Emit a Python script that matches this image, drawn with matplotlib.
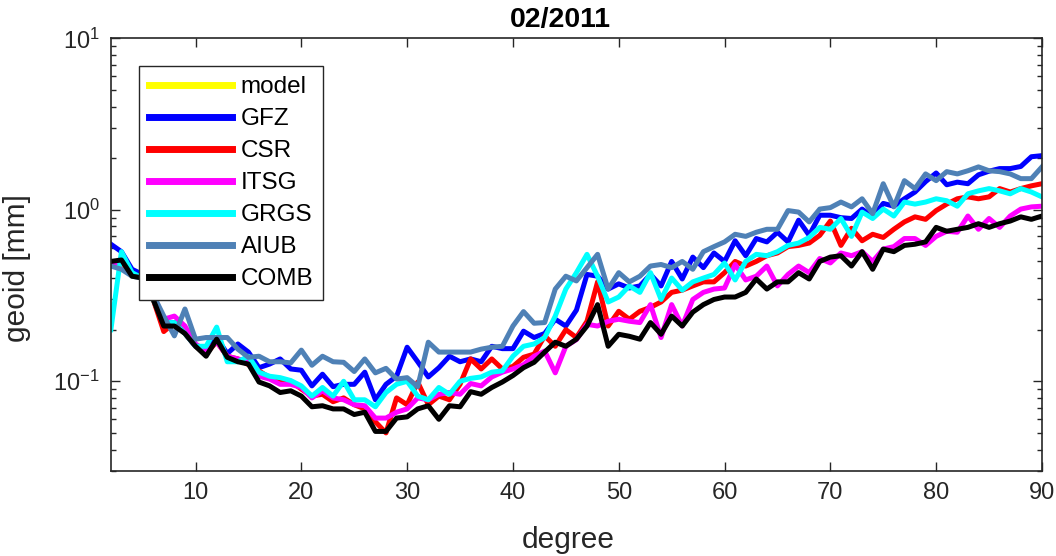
import numpy as np
import matplotlib
matplotlib.use('Agg')
import matplotlib.pyplot as plt
from matplotlib.ticker import LogLocator, NullFormatter, MultipleLocator

plt.rcParams['font.family'] = ['Liberation Sans', 'DejaVu Sans']
plt.rcParams['mathtext.fontset'] = 'custom'
plt.rcParams['mathtext.rm'] = 'Liberation Sans'
plt.rcParams['mathtext.it'] = 'Liberation Sans'
plt.rcParams['mathtext.default'] = 'regular'

# spherical harmonic degree 2..90
degree = list(range(2, 91))

# geoid error per degree [mm]
model = []  # not visible in the plot

gfz = [0.63, 0.57, 0.45, 0.42, 0.32, 0.22, 0.22, 0.19, 0.16, 0.15,
       0.18, 0.145, 0.165, 0.148, 0.12, 0.126, 0.135, 0.118, 0.116, 0.094,
       0.11, 0.093, 0.096, 0.096, 0.113, 0.078, 0.096, 0.107, 0.158, 0.13,
       0.106, 0.12, 0.14, 0.13, 0.135, 0.13, 0.16, 0.155, 0.155, 0.196,
       0.18, 0.19, 0.23, 0.21, 0.26, 0.42, 0.41, 0.345, 0.37, 0.35,
       0.36, 0.42, 0.36, 0.50, 0.395, 0.53, 0.46, 0.56, 0.50, 0.66,
       0.54, 0.68, 0.65, 0.74, 0.65, 0.87, 0.71, 0.93, 0.93, 0.90,
       0.89, 1.01, 0.91, 1.09, 1.05, 1.16, 1.27, 1.46, 1.64, 1.40,
       1.45, 1.42, 1.60, 1.68, 1.74, 1.74, 1.79, 2.04, 2.07]

csr = [0.48, 0.50, 0.42, 0.40, 0.30, 0.195, 0.22, 0.19, 0.16, 0.145,
       0.17, 0.14, 0.135, 0.125, 0.115, 0.105, 0.10, 0.10, 0.09, 0.082,
       0.084, 0.076, 0.08, 0.073, 0.069, 0.058, 0.05, 0.08, 0.073, 0.099,
       0.073, 0.082, 0.078, 0.096, 0.135, 0.118, 0.135, 0.118, 0.122, 0.138,
       0.144, 0.184, 0.16, 0.20, 0.18, 0.224, 0.38, 0.21, 0.256, 0.23,
       0.256, 0.27, 0.29, 0.33, 0.34, 0.36, 0.38, 0.38, 0.43, 0.50,
       0.47, 0.50, 0.54, 0.56, 0.61, 0.62, 0.64, 0.71, 0.86, 0.62,
       0.78, 0.66, 0.72, 0.69, 0.77, 0.85, 0.91, 0.88, 0.99, 1.08,
       1.16, 1.19, 1.16, 1.19, 1.33, 1.27, 1.33, 1.38, 1.42]

itsg = [0.47, 0.52, 0.42, 0.40, 0.32, 0.23, 0.24, 0.21, 0.165, 0.15,
        0.17, 0.14, 0.135, 0.13, 0.107, 0.103, 0.096, 0.096, 0.092, 0.08,
        0.088, 0.08, 0.078, 0.073, 0.072, 0.061, 0.061, 0.066, 0.069, 0.08,
        0.078, 0.084, 0.086, 0.084, 0.097, 0.094, 0.106, 0.113, 0.118, 0.125,
        0.14, 0.15, 0.112, 0.16, 0.175, 0.215, 0.21, 0.224, 0.23, 0.224,
        0.22, 0.28, 0.18, 0.28, 0.21, 0.30, 0.33, 0.345, 0.35, 0.48,
        0.39, 0.41, 0.47, 0.36, 0.42, 0.47, 0.43, 0.52, 0.49, 0.56,
        0.54, 0.57, 0.50, 0.59, 0.61, 0.68, 0.68, 0.62, 0.70, 0.75,
        0.74, 0.92, 0.77, 0.89, 0.79, 0.92, 1.01, 1.04, 1.05]

grgs = [0.20, 0.57, 0.43, 0.40, 0.30, 0.22, 0.22, 0.19, 0.16, 0.16,
        0.207, 0.13, 0.13, 0.14, 0.113, 0.107, 0.105, 0.101, 0.094, 0.082,
        0.092, 0.082, 0.10, 0.078, 0.078, 0.071, 0.086, 0.096, 0.10, 0.082,
        0.078, 0.092, 0.084, 0.10, 0.104, 0.106, 0.113, 0.115, 0.14, 0.16,
        0.165, 0.18, 0.24, 0.345, 0.43, 0.55, 0.41, 0.29, 0.31, 0.36,
        0.33, 0.43, 0.30, 0.40, 0.34, 0.38, 0.40, 0.42, 0.49, 0.39,
        0.50, 0.55, 0.54, 0.57, 0.62, 0.64, 0.69, 0.79, 0.77, 0.89,
        0.70, 0.97, 0.89, 1.01, 0.92, 1.11, 1.08, 1.11, 1.16, 1.13,
        1.05, 1.24, 1.29, 1.33, 1.29, 1.24, 1.33, 1.27, 1.19]

aiub = [0.47, 0.45, 0.41, 0.40, 0.32, 0.24, 0.184, 0.264, 0.176, 0.18,
        0.18, 0.18, 0.154, 0.138, 0.14, 0.13, 0.13, 0.128, 0.152, 0.124,
        0.14, 0.13, 0.129, 0.114, 0.135, 0.112, 0.119, 0.103, 0.105, 0.093,
        0.169, 0.148, 0.148, 0.148, 0.148, 0.154, 0.158, 0.16, 0.21, 0.255,
        0.218, 0.22, 0.345, 0.41, 0.385, 0.46, 0.55, 0.345, 0.43, 0.38,
        0.41, 0.47, 0.48, 0.46, 0.50, 0.45, 0.57, 0.61, 0.65, 0.72,
        0.70, 0.74, 0.77, 0.77, 0.99, 0.97, 0.85, 1.01, 1.03, 1.11,
        1.04, 1.16, 0.95, 1.42, 1.04, 1.48, 1.33, 1.62, 1.48, 1.67,
        1.62, 1.69, 1.78, 1.69, 1.67, 1.62, 1.52, 1.52, 1.78]

comb = [0.50, 0.51, 0.41, 0.40, 0.30, 0.21, 0.21, 0.19, 0.16, 0.14,
        0.176, 0.138, 0.13, 0.126, 0.099, 0.094, 0.086, 0.088, 0.082, 0.071,
        0.072, 0.069, 0.069, 0.064, 0.066, 0.051, 0.051, 0.061, 0.062, 0.069,
        0.072, 0.060, 0.072, 0.071, 0.087, 0.084, 0.092, 0.099, 0.108, 0.12,
        0.129, 0.148, 0.169, 0.16, 0.176, 0.21, 0.28, 0.16, 0.188, 0.183,
        0.176, 0.22, 0.188, 0.24, 0.21, 0.253, 0.28, 0.30, 0.31, 0.31,
        0.33, 0.395, 0.345, 0.38, 0.38, 0.43, 0.395, 0.50, 0.53, 0.54,
        0.47, 0.57, 0.45, 0.59, 0.57, 0.62, 0.63, 0.65, 0.79, 0.75,
        0.77, 0.79, 0.83, 0.79, 0.83, 0.86, 0.91, 0.88, 0.92]

labels = ['model', 'GFZ', 'CSR', 'ITSG', 'GRGS', 'AIUB', 'COMB']
colors = ['#ffff00', '#0000ff', '#ff0000', '#ff00ff', '#00ffff', '#4f81b6', '#000000']
series = [model, gfz, csr, itsg, grgs, aiub, comb]

fig = plt.figure(figsize=(10.56, 5.56), dpi=100)
ax = fig.add_axes([0.105, 0.153, 0.8817, 0.778])

for vals, lab, col in zip(series, labels, colors):
    ax.plot(degree[:len(vals)], vals, color=col, lw=3.6, label=lab)

ax.set_yscale('log')
ax.set_xlim(2, 90)
ax.set_ylim(0.03, 10)
ax.xaxis.set_major_locator(MultipleLocator(10))
ax.yaxis.set_major_locator(LogLocator(base=10))
ax.yaxis.set_minor_locator(LogLocator(base=10, subs=np.arange(2, 10)))
ax.yaxis.set_minor_formatter(NullFormatter())

axcol = '#262626'
for s in ax.spines.values():
    s.set_color(axcol)
    s.set_linewidth(1.2)
ax.tick_params(which='both', direction='in', top=True, right=True,
               colors=axcol, labelsize=17)
ax.tick_params(which='major', length=6.5, width=1.0)
ax.tick_params(which='minor', length=3.5, width=1.0)
ax.tick_params(axis='x', pad=8)
ax.tick_params(axis='y', pad=8)

ax.set_xlabel('degree', fontsize=21.5, color=axcol)
ax.xaxis.set_label_coords(0.491, -0.128)
ax.set_ylabel('geoid [mm]', fontsize=21.5, color=axcol)
ax.yaxis.set_label_coords(-0.086, 0.469)
ax.set_title('02/2011', fontsize=20.5, fontweight='bold', pad=8, x=0.483)

leg = ax.legend(loc='upper left', bbox_to_anchor=(0.030, 0.935), borderaxespad=0,
                fontsize=17.5, handlelength=3.45, handletextpad=0.35,
                labelspacing=0.41, borderpad=0.4, fancybox=False,
                framealpha=1.0, edgecolor='#262626')
for line in leg.get_lines():
    line.set_linewidth(5)
leg.get_frame().set_linewidth(1.0)

fig.savefig('out.png', dpi=100)
